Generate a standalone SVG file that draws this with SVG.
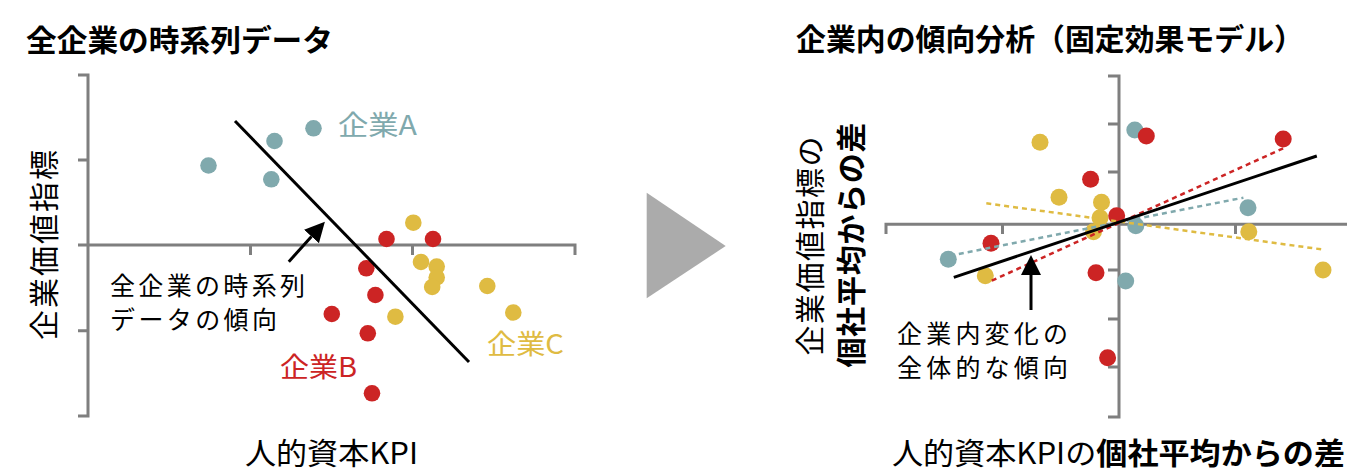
<svg xmlns="http://www.w3.org/2000/svg" width="1347" height="471" viewBox="0 0 1347 471">
<style>
text{font-family:"Noto Sans CJK JP","Noto Sans",sans-serif;fill:#000}
.title{font-size:30px;font-weight:bold}
.lab{font-size:30px}
.body{font-size:27px}
.note{font-size:25px}
.b{font-weight:bold}
.axis{stroke:#7f7f7f;stroke-width:3;fill:none}
.a{fill:#80a9ad}
.r{fill:#cc2424}
.y{fill:#dfbb42}
.trend{stroke:#000;stroke-width:3;fill:none}
.dash{stroke-width:2.5;stroke-dasharray:5 4;fill:none}
</style>
<defs>
<marker id="head" markerUnits="userSpaceOnUse" markerWidth="20" markerHeight="20" refX="0" refY="10" orient="auto" viewBox="0 0 20 20">
<path d="M0,0 L20,10 L0,20 z" fill="#000"/>
</marker>
</defs>

<g id="left-panel">
<text class="title" x="26" y="51" textLength="307" lengthAdjust="spacingAndGlyphs">全企業の時系列データ</text>
<path class="axis" d="M78,75 H88 V416 H78 M78,160 H88 M78,330.7 H88 M78,245 H575 V255 M250.5,245 V255 M412.5,245 V255"/>
<text class="lab" transform="translate(42,245) rotate(-90)" text-anchor="middle" dominant-baseline="central" textLength="190" lengthAdjust="spacing">企業価値指標</text>
<text class="lab" x="245" y="464" textLength="173" lengthAdjust="spacingAndGlyphs">人的資本KPI</text>
<g id="company-a">
<circle class="a" cx="208.5" cy="165.5" r="8.3"/>
<circle class="a" cx="274.5" cy="141" r="8.3"/>
<circle class="a" cx="313.5" cy="128.3" r="8.3"/>
<circle class="a" cx="271.3" cy="179.3" r="8.3"/>
<text class="body" x="338" y="135" style="fill:#80a9ad" textLength="79" lengthAdjust="spacingAndGlyphs">企業A</text>
</g>
<g id="company-b">
<circle class="r" cx="386.5" cy="239" r="8.3"/>
<circle class="r" cx="433" cy="239" r="8.3"/>
<circle class="r" cx="366.3" cy="268.3" r="8.3"/>
<circle class="r" cx="375.4" cy="295" r="8.3"/>
<circle class="r" cx="331.8" cy="314" r="8.3"/>
<circle class="r" cx="367.8" cy="333.3" r="8.3"/>
<circle class="r" cx="372" cy="393.3" r="8.3"/>
<text class="body" x="280" y="377" style="fill:#cc2424" textLength="77" lengthAdjust="spacingAndGlyphs">企業B</text>
</g>
<g id="company-c">
<circle class="y" cx="413.3" cy="222.7" r="8.3"/>
<circle class="y" cx="421" cy="262" r="8.3"/>
<circle class="y" cx="436.7" cy="266.5" r="8.3"/>
<circle class="y" cx="436.7" cy="277.5" r="8.3"/>
<circle class="y" cx="432.2" cy="287" r="8.3"/>
<circle class="y" cx="487.3" cy="286" r="8.3"/>
<circle class="y" cx="513.3" cy="312.5" r="8.3"/>
<circle class="y" cx="395.4" cy="316.7" r="8.3"/>
<text class="body" x="487" y="354" style="fill:#dfbb42" textLength="77" lengthAdjust="spacingAndGlyphs">企業C</text>
</g>
<g id="left-note">
<text class="note" x="110" y="295" textLength="195" lengthAdjust="spacing">全企業の時系列</text>
<text class="note" x="110" y="329" textLength="167" lengthAdjust="spacing">データの傾向</text>
</g>
</g>

<g id="transition-arrow">
<polygon points="646.7,192.7 646.7,298.3 725.7,246" fill="#ababab"/>
</g>

<g id="right-panel">
<text class="title" x="796" y="50" textLength="508" lengthAdjust="spacingAndGlyphs">企業内の傾向分析（固定効果モデル）</text>
<path class="axis" d="M1108,76 H1119 V417 H1108 M1108,124 H1119 M1108,172 H1119 M1108,270 H1119 M1108,319 H1119 M1108,367 H1119 M886,234 V224.3 H1347 M1002.5,224.3 V234 M1119,224.3 V234 M1235.5,224.3 V234"/>
<text class="lab" transform="translate(808,246) rotate(-90)" text-anchor="middle" dominant-baseline="central" textLength="219" lengthAdjust="spacing">企業価値指標の</text>
<text class="lab b" transform="translate(849,245) rotate(-90)" text-anchor="middle" dominant-baseline="central" textLength="245" lengthAdjust="spacing">個社平均からの差</text>
<text class="lab" x="892" y="464" textLength="453" lengthAdjust="spacingAndGlyphs">人的資本KPIの<tspan class="b">個社平均からの差</tspan></text>
<g id="right-dots">
<circle class="a" cx="1134.8" cy="130" r="8.5"/>
<circle class="a" cx="1248" cy="207.7" r="8.5"/>
<circle class="a" cx="1135.8" cy="225.7" r="8.5"/>
<circle class="a" cx="948.3" cy="259.3" r="8.5"/>
<circle class="a" cx="1125.7" cy="281" r="8.5"/>
<circle class="y" cx="1040" cy="142.3" r="8.5"/>
<circle class="y" cx="1059" cy="197.3" r="8.5"/>
<circle class="y" cx="1101.5" cy="202.3" r="8.5"/>
<circle class="y" cx="1100" cy="217.7" r="8.5"/>
<circle class="y" cx="1093.5" cy="231.7" r="8.5"/>
<circle class="y" cx="1248.8" cy="231.7" r="8.5"/>
<circle class="y" cx="985.3" cy="275.7" r="8.5"/>
<circle class="y" cx="1323" cy="270" r="8.5"/>
<circle class="r" cx="1146.3" cy="136" r="8.5"/>
<circle class="r" cx="1283.2" cy="139" r="8.5"/>
<circle class="r" cx="1090.6" cy="179.3" r="8.5"/>
<circle class="r" cx="1116.7" cy="215.7" r="8.5"/>
<circle class="r" cx="991" cy="243.3" r="8.5"/>
<circle class="r" cx="1096" cy="272.7" r="8.5"/>
<circle class="r" cx="1107.6" cy="357.7" r="8.5"/>
</g>
<g id="right-note">
<text class="note" x="897" y="343" textLength="171" lengthAdjust="spacing">企業内変化の</text>
<text class="note" x="897" y="377" textLength="171" lengthAdjust="spacing">全体的な傾向</text>
</g>
</g>

<g id="connectors">
<line class="trend" x1="235" y1="121" x2="469" y2="362"/>
<line class="trend" x1="288.8" y1="261.7" x2="311.5" y2="236.5" marker-end="url(#head)"/>
<line class="dash" stroke="#80a9ad" x1="950" y1="255.7" x2="1243.4" y2="197.7"/>
<line class="dash" stroke="#cc2424" x1="991.8" y1="280.7" x2="1283.2" y2="148.3"/>
<line class="dash" stroke="#dfbb42" x1="986.3" y1="203.3" x2="1321.2" y2="249.3"/>
<line class="trend" x1="953.8" y1="277.3" x2="1316.8" y2="156"/>
<line class="trend" x1="1031" y1="310" x2="1031" y2="275" marker-end="url(#head)"/>
</g>
</svg>
